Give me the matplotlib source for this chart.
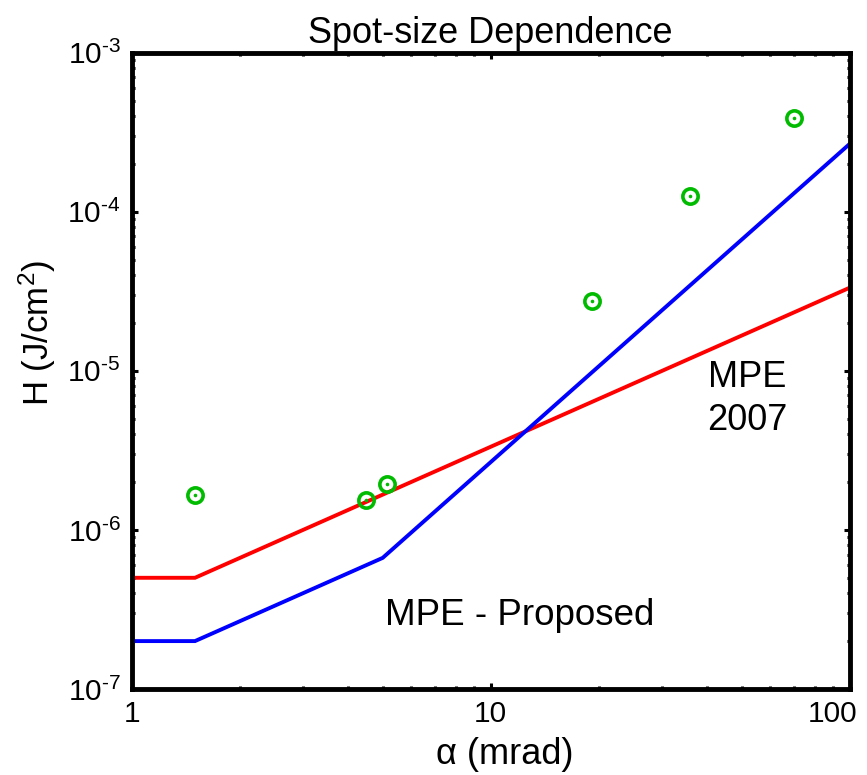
import matplotlib
matplotlib.use("Agg")
import matplotlib.pyplot as plt
import matplotlib.transforms as mtransforms
from matplotlib.ticker import LogLocator, FuncFormatter, NullFormatter
import numpy as np

plt.rcParams['font.family'] = ['Liberation Sans', 'DejaVu Sans']
plt.rcParams['mathtext.fontset'] = 'custom'
plt.rcParams['mathtext.rm'] = 'Liberation Sans'
plt.rcParams['mathtext.it'] = 'Liberation Sans:italic'
plt.rcParams['mathtext.default'] = 'regular'

# MPE 2007 limit (breakpoints, mrad -> J/cm^2)
mpe2007_alpha = [1.0, 1.5, 100.0]
mpe2007_H = [5.0e-7, 5.0e-7, 3.33e-5]

# Proposed MPE limit
proposed_alpha = [1.0, 1.5, 5.0, 100.0]
proposed_H = [2.0e-7, 2.0e-7, 6.67e-7, 2.67e-4]

# Measured threshold points
data_alpha = [1.5, 4.5, 5.15, 19.2, 36.0, 70.0]
data_H = [1.66e-6, 1.55e-6, 1.95e-6, 2.75e-5, 1.26e-4, 3.9e-4]

x_ticks = [1, 10, 100]
y_ticks = [1e-7, 1e-6, 1e-5, 1e-4, 1e-3]

fig = plt.figure(figsize=(8.67, 7.75), dpi=100)
ax = fig.add_axes([0.152, 0.111, 0.828, 0.821])

ax.plot(mpe2007_alpha, mpe2007_H, color='#ff0000', lw=2.8, solid_joinstyle='miter')
ax.plot(proposed_alpha, proposed_H, color='#0000ff', lw=2.8, solid_joinstyle='miter')
green = '#00bb00'
ax.plot(data_alpha, data_H, linestyle='none', marker='o', ms=11,
        mfc='none', mec=green, mew=2.6)
ax.plot(data_alpha, data_H, linestyle='none', marker='o', ms=2.6,
        mfc=green, mec=green, mew=0)

ax.set_xscale('log')
ax.set_yscale('log')
ax.set_xlim(1, 100)
ax.set_ylim(1e-7, 1e-3)

ax.set_xticks(x_ticks)
ax.xaxis.set_major_formatter(FuncFormatter(lambda v, p: f"{v:g}"))
ax.xaxis.set_minor_locator(LogLocator(base=10, subs=np.arange(2, 10)))
ax.xaxis.set_minor_formatter(NullFormatter())

ax.set_yticks(y_ticks)
ax.yaxis.set_major_formatter(
    FuncFormatter(lambda v, p: r"$10^{\text{-%d}}$" % round(-np.log10(v))))
ax.yaxis.set_minor_locator(LogLocator(base=10, subs=np.arange(2, 10)))
ax.yaxis.set_minor_formatter(NullFormatter())

for s in ax.spines.values():
    s.set_linewidth(3.5)
ax.tick_params(which='both', direction='in', top=True, right=True,
               labelsize=21.5, width=2.2)
ax.tick_params(which='major', length=4, pad=8)
ax.tick_params(which='minor', length=2.5)

ax.set_title('Spot-size Dependence', fontsize=26, pad=7)
ax.set_xlabel('α (mrad)', fontsize=26)
ax.set_ylabel('H (J/cm$^{2}$)', fontsize=25)
ax.xaxis.set_label_coords(0.52, -0.075)
ax.yaxis.set_label_coords(-0.103, 0.56)

ax.text(40.2, 1.17e-5, 'MPE\n2007', fontsize=26, ha='left', va='top',
        linespacing=1.28)
ax.text(5.07, 2.53e-7, 'MPE - Proposed', fontsize=26.5, ha='left', va='baseline')

# keep the last x tick label inside the figure
fig.canvas.draw()
last = ax.get_xticklabels()[-1]
last.set_horizontalalignment('right')
last.set_transform(last.get_transform() +
                   mtransforms.ScaledTranslation(8 / 100, 0, fig.dpi_scale_trans))

fig.savefig('out.png', dpi=100)
